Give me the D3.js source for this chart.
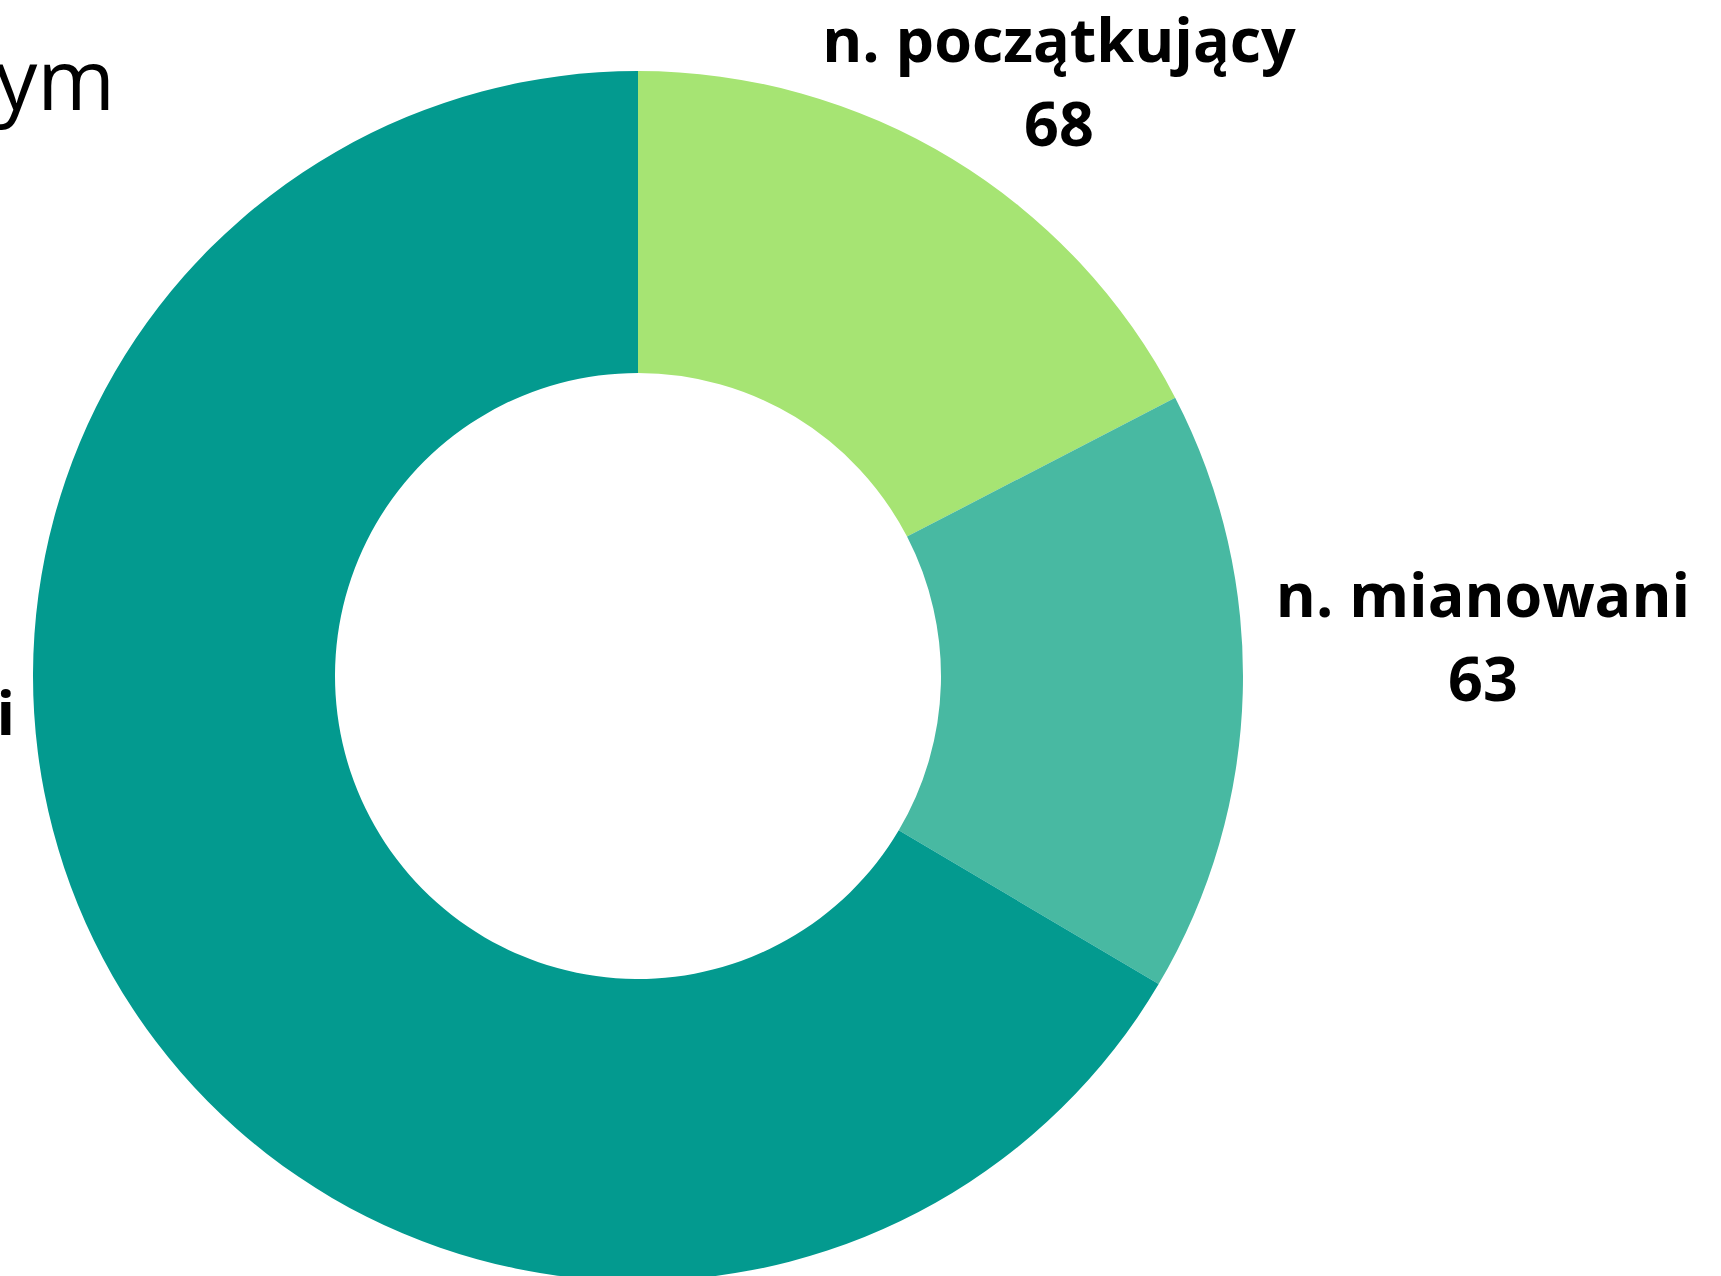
<!DOCTYPE html>
<html>
<head>
<meta charset="utf-8">
<script src="https://cdn.jsdelivr.net/npm/d3@7"></script>
<style>
    body { margin: 0; background: #fff; overflow: hidden; }
    svg { display: block; font-family: "Open Sans", sans-serif; }
    .label { font-weight: 700; fill: #000; }
    .title { font-weight: 400; fill: #000; }
</style>
</head>
<body>
<script>
// data
var categories = ["n. początkujący", "n. mianowani", "n. dyplomowani"];
var values = [68, 63, 260];
var colors = ["#a6e473", "#48b9a2", "#039a8f"];

var width = 1721;
var height = 1276;

// donut geometry
var cx = 638, cy = 676;
var outerRadius = 605;
var innerRadius = 303;

var fontSize = 61;
var lineGap = 84;

// label placement (centre x, first baseline)
var labelPos = [
    {x: 1059, y: 62, anchor: "middle"},
    {x: 1483, y: 617, anchor: "middle"},
    {x: 15, y: 735, anchor: "end"}
];

var dataset = categories.map(function(c, i) { return {name: c, value: values[i]}; });

var svg = d3.select("body")
            .append("svg")
            .attr("width", width)
            .attr("height", height);

var pie = d3.pie()
            .sort(null)
            .value(function(d) { return d.value; });

var arc = d3.arc()
            .innerRadius(innerRadius)
            .outerRadius(outerRadius);

var g = svg.append("g")
            .attr("transform", "translate(" + cx + "," + cy + ")");

g.selectAll("path")
    .data(pie(dataset))
    .enter()
    .append("path")
    .attr("fill", function(d, i) { return colors[i]; })
    .attr("d", arc);

// title, mostly cut off on the left
svg.append("text")
    .attr("class", "title")
    .attr("x", 115)
    .attr("y", 110)
    .attr("text-anchor", "end")
    .style("font-size", "84px")
    .text("Nauczyciele według stopnia awansu w roku szkolnym");

// slice labels: name on first line, value under it
var labels = svg.selectAll(".label")
                .data(dataset)
                .enter()
                .append("text")
                .attr("class", "label")
                .attr("text-anchor", "middle")
                .style("font-size", fontSize + "px");

labels.each(function(d, i) {
    var p = labelPos[i];
    var t = d3.select(this);
    var nameLine = t.append("tspan")
        .attr("y", p.y)
        .text(d.name);
    var valueLine = t.append("tspan")
        .attr("y", p.y + lineGap)
        .text(d.value);
    var x = p.x;
    if (p.anchor == "end") {
        // right edge of the name sits at p.x, value centred under it
        x = p.x - nameLine.node().getComputedTextLength() / 2;
    }
    nameLine.attr("x", x);
    valueLine.attr("x", x);
});
</script>
</body>
</html>
